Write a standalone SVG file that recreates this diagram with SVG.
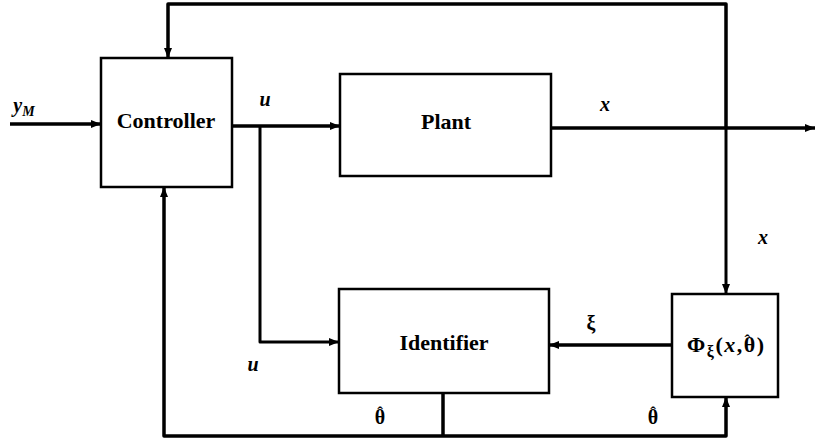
<svg xmlns="http://www.w3.org/2000/svg" width="818" height="445" viewBox="0 0 818 445">
<defs>
<marker id="ah" viewBox="0 0 10 8" refX="10" refY="4" markerWidth="10" markerHeight="8" markerUnits="userSpaceOnUse" orient="auto">
<path d="M0,0 L10,4 L0,8 Z" fill="#000"/>
</marker>
<style>
.box{fill:#fff;stroke:#000;stroke-width:2.5}
.lbl{font-family:"Liberation Serif","DejaVu Serif",serif;font-weight:bold;font-size:22px;text-anchor:middle;fill:#000}
.var{font-family:"Liberation Serif","DejaVu Serif",serif;font-weight:bold;font-style:italic;font-size:20px;text-anchor:middle;fill:#000}
.gr{font-family:"Liberation Serif","DejaVu Serif",serif;font-weight:bold;font-size:20px;text-anchor:middle;fill:#000}
.phi{font-family:"Liberation Serif","DejaVu Serif",serif;font-weight:bold;font-size:22px;text-anchor:start;letter-spacing:1.5px;fill:#000}
.w{fill:none;stroke:#000;stroke-width:3.5;stroke-linejoin:round}
.t{fill:none;stroke:#000;stroke-width:3;stroke-linejoin:round}
</style>
</defs>
<rect width="818" height="445" fill="#fff"/>
<g id="connectors">
<path class="w" d="M10,124 H101" marker-end="url(#ah)"/>
<path class="w" d="M232,126 H340" marker-end="url(#ah)"/>
<path class="t" d="M260,126 V342 H339" marker-end="url(#ah)"/>
<path class="w" d="M551,128 H815" marker-end="url(#ah)"/>
<path class="w" d="M726,128 V4 H168 V58" marker-end="url(#ah)"/>
<path class="t" d="M726,128 V294" marker-end="url(#ah)"/>
<path class="w" d="M672,345 H549" marker-end="url(#ah)"/>
<path class="w" d="M443,393 V436"/>
<path class="w" d="M443,436 H726 V397" marker-end="url(#ah)"/>
<path class="w" d="M443,436 H164 V187" marker-end="url(#ah)"/>
</g>
<g id="controller">
<rect class="box" x="101" y="58" width="131" height="129"/>
<text class="lbl" x="166" y="128">Controller</text>
</g>
<g id="plant">
<rect class="box" x="340" y="74" width="211" height="102"/>
<text class="lbl" x="446" y="129">Plant</text>
</g>
<g id="identifier">
<rect class="box" x="339" y="289" width="210" height="104"/>
<text class="lbl" x="444" y="350">Identifier</text>
</g>
<g id="phi">
<rect class="box" x="672" y="294" width="106" height="103"/>
<text class="phi" x="687" y="352">Φ<tspan font-size="16" dy="5">ξ</tspan><tspan dy="-5">(</tspan><tspan font-style="italic">x</tspan>,θ)<tspan x="748" dy="-6" font-size="17" style="text-anchor:middle">ˆ</tspan></text>
</g>
<g id="labels">
<text class="var" x="24" y="112">y<tspan font-size="14" dy="4">M</tspan></text>
<text class="var" x="265" y="106">u</text>
<text class="var" x="605" y="111">x</text>
<text class="var" x="763" y="244">x</text>
<text class="var" x="253" y="371">u</text>
<text class="gr" x="591" y="330">ξ</text>
<text class="gr" x="380" y="424">θ<tspan x="380" dy="-6" font-size="17">ˆ</tspan></text>
<text class="gr" x="653" y="424">θ<tspan x="653" dy="-6" font-size="17">ˆ</tspan></text>
</g>
</svg>
